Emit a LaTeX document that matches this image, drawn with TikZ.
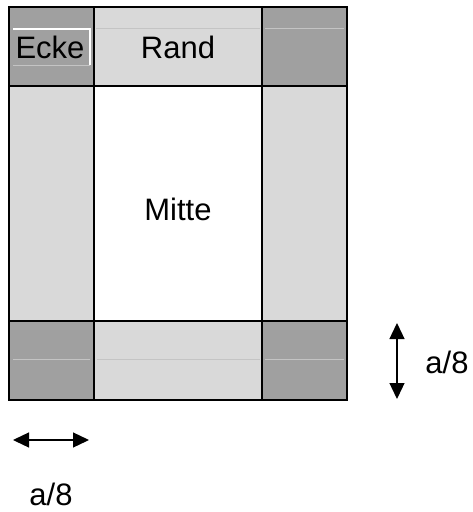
\documentclass[tikz,border=0pt]{standalone}
\usepackage{fontspec}
\setmainfont{Liberation Sans}
\usetikzlibrary{arrows.meta}
\definecolor{darkcell}{HTML}{A0A0A0}
\definecolor{lightcell}{HTML}{D9D9D9}
\definecolor{faint}{HTML}{C4C4C4}
\tikzset{
  cell/.style={draw=none, inner sep=0pt, outer sep=0pt, anchor=north west},
  corner/.style={cell, fill=darkcell},
  edge/.style={cell, fill=lightcell},
  centre/.style={cell, fill=white},
  lbl/.style={font=\fontsize{31}{31}\selectfont, inner sep=0pt},
  dim/.style={line width=1.3pt, {Triangle[length=16pt,width=15pt]}-{Triangle[length=16pt,width=15pt]}},
  grid/.style={line width=1.6pt},
  outer/.style={line width=2.2pt},
  faintline/.style={draw=faint, line width=0.8pt}
}
\begin{document}
\begin{tikzpicture}[x=1pt,y=-1pt]
\useasboundingbox (0,0) rectangle (472,512);
% cells
\node[corner, minimum width=85pt, minimum height=79pt] (tl) at (9,7) {};
\node[edge, minimum width=168pt, minimum height=79pt] (tm) at (94,7) {};
\node[corner, minimum width=85pt, minimum height=79pt] (tr) at (262,7) {};
\node[edge, minimum width=85pt, minimum height=235pt] (ml) at (9,86) {};
\node[centre, minimum width=168pt, minimum height=235pt] (mm) at (94,86) {};
\node[edge, minimum width=85pt, minimum height=235pt] (mr) at (262,86) {};
\node[corner, minimum width=85pt, minimum height=79pt] (bl) at (9,321) {};
\node[edge, minimum width=168pt, minimum height=79pt] (bm) at (94,321) {};
\node[corner, minimum width=85pt, minimum height=79pt] (br) at (262,321) {};
% faint lines
\draw[faintline] (96,28) -- (260,28);
\draw[faintline] (265,28) -- (344,28);
\draw[faintline] (13,359) -- (90,359);
\draw[faintline] (97,359) -- (260,359);
\draw[faintline] (265,359) -- (344,359);
% Ecke label box
\draw[white, line width=1.2pt] (13,29) -- (90,29) -- (90,65);
\draw[faintline] (13,65) -- (90,65);
% grid lines
\draw[grid] (tl.north east) -- (bl.south east);
\draw[grid] (tr.north west) -- (br.south west);
\draw[grid] (tl.south west) -- (tr.south east);
\draw[grid] (bl.north west) -- (br.north east);
\draw[outer] (tl.north west) rectangle (br.south east);
% labels
\node[lbl] (ecke) at (50,47) {Ecke};
\node[lbl] (rand) at (178,47) {Rand};
\node[lbl] (mitte) at (178,209) {Mitte};
% dimension arrows
\coordinate (vt) at (397,323);
\coordinate (vb) at (397,399);
\draw[dim] (vt) -- (vb);
\node[lbl] (va) at (447,362) {a/8};
\coordinate (hl) at (13,440);
\coordinate (hr) at (89,440);
\draw[dim] (hl) -- (hr);
\node[lbl] (ha) at (51,494) {a/8};
\end{tikzpicture}
\end{document}
